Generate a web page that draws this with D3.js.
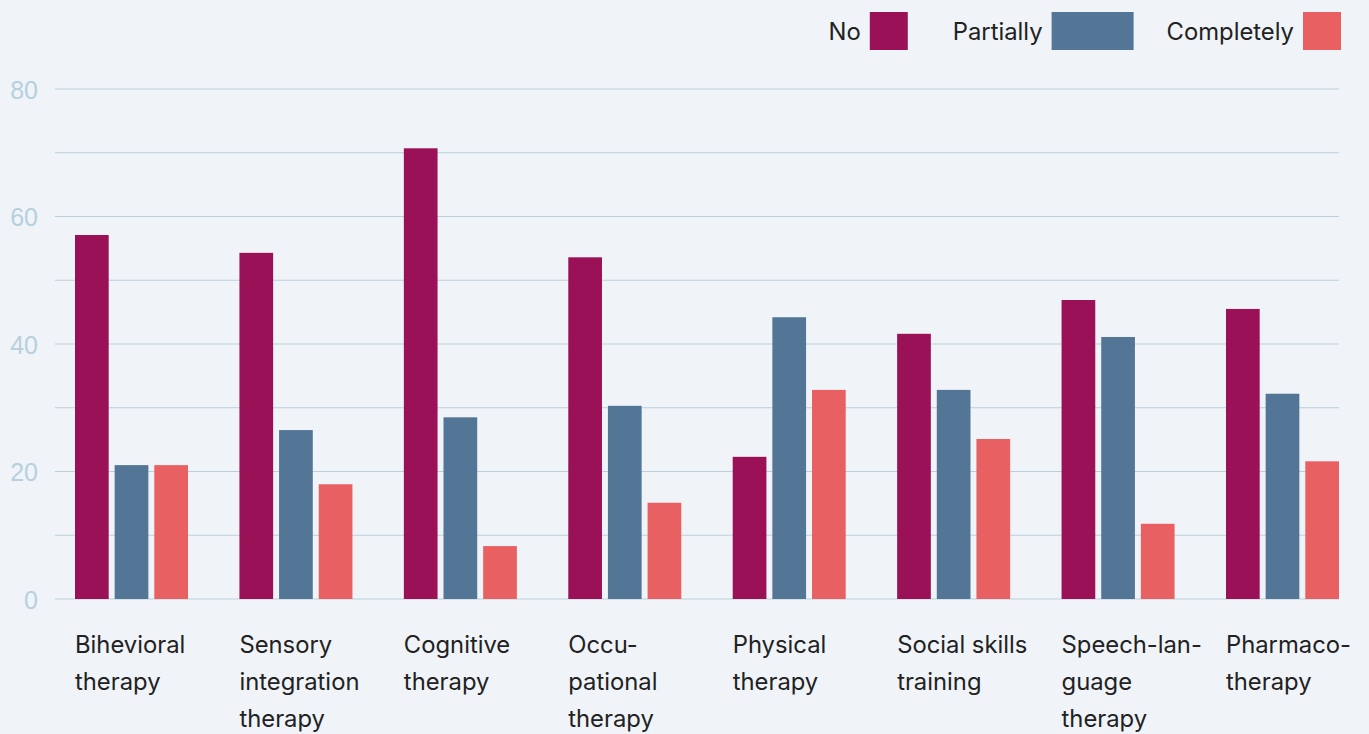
<!DOCTYPE html>
<html>
<head>
<meta charset="utf-8">
<script src="https://cdn.jsdelivr.net/npm/d3@7"></script>
<style>
  html, body { margin: 0; padding: 0; background: #f0f4f8; }
  svg { display: block; }
</style>
</head>
<body>
<svg id="chart" width="1369" height="734"></svg>
<script>
// categories (already hyphenated as in the picture)
const categories = [
  ["Bihevioral", "therapy"],
  ["Sensory", "integration", "therapy"],
  ["Cognitive", "therapy"],
  ["Occu-", "pational", "therapy"],
  ["Physical", "therapy"],
  ["Social skills", "training"],
  ["Speech-lan-", "guage", "therapy"],
  ["Pharmaco-", "therapy"]
];
const seriesNames = ["No", "Partially", "Completely"];
const noValues = [57.1, 54.3, 70.7, 53.6, 22.3, 41.6, 46.9, 45.5];
const partiallyValues = [21.0, 26.5, 28.5, 30.3, 44.2, 32.8, 41.1, 32.2];
const completelyValues = [21.0, 18.0, 8.3, 15.1, 32.8, 25.1, 11.8, 21.6];
const yTicks = [0, 20, 40, 60, 80];
const gridTicks = [0, 10, 20, 30, 40, 50, 60, 70, 80];

const colors = ["#9b1158", "#537696", "#e96062"];
const svg = d3.select("#chart");

const catKeys = categories.map(c => c.join(" "));
const rows = catKeys.map((k, i) => ({
  key: k,
  values: [noValues[i], partiallyValues[i], completelyValues[i]]
}));

const y = d3.scaleLinear().domain([0, 80]).range([599, 89]);
const x0 = d3.scaleBand().domain(catKeys).range([75, 1339]).paddingInner(0.3127).paddingOuter(0);
const x1 = d3.scaleBand().domain(seriesNames).range([0, x0.bandwidth()]).paddingInner(0.15);

// grid lines
svg.append("g").selectAll("line")
  .data(gridTicks)
  .enter().append("line")
  .attr("x1", 55).attr("x2", 1339)
  .attr("y1", d => y(d)).attr("y2", d => y(d))
  .style("stroke", "#b9d0dc")
  .style("stroke-width", 1);

// y labels
svg.append("g").selectAll("text")
  .data(yTicks)
  .enter().append("text")
  .attr("x", 38)
  .attr("y", d => y(d) + 3)
  .attr("text-anchor", "end")
  .attr("dominant-baseline", "middle")
  .style("font-family", "Liberation Sans, Arial, sans-serif")
  .style("font-size", "25px")
  .style("fill", "#b5d0de")
  .text(d => d);

// bars
const groups = svg.append("g").selectAll("g")
  .data(rows)
  .enter().append("g")
  .attr("transform", d => "translate(" + x0(d.key) + ",0)");

groups.selectAll("rect")
  .data(d => d.values.map((v, i) => ({ name: seriesNames[i], value: v, i: i })))
  .enter().append("rect")
  .attr("x", d => x1(d.name))
  .attr("y", d => y(d.value))
  .attr("width", x1.bandwidth())
  .attr("height", d => y(0) - y(d.value))
  .style("fill", d => colors[d.i]);

// category labels
const labels = svg.append("g").selectAll("text")
  .data(categories)
  .enter().append("text")
  .attr("x", (d, i) => x0(catKeys[i]))
  .attr("y", 653)
  .style("font-family", "Inter, sans-serif")
  .style("font-size", "23.8px")
  .style("fill", "#222");

labels.selectAll("tspan")
  .data(d => d)
  .enter().append("tspan")
  .attr("x", function() { return d3.select(this.parentNode).attr("x"); })
  .attr("dy", (d, i) => i === 0 ? 0 : 37)
  .text(d => d);

// legend, laid out right to left
const boxWidths = [38, 82, 38];
const gapsBefore = [0, 45, 33];
const legend = svg.append("g");
let right = 1341;
for (let i = seriesNames.length - 1; i >= 0; i--) {
  legend.append("rect")
    .attr("x", right - boxWidths[i])
    .attr("y", 12)
    .attr("width", boxWidths[i])
    .attr("height", 38)
    .style("fill", colors[i]);
  const t = legend.append("text")
    .attr("x", right - boxWidths[i] - 9)
    .attr("y", 40)
    .attr("text-anchor", "end")
    .style("font-family", "Inter, sans-serif")
    .style("font-size", "23.8px")
    .style("fill", "#222")
    .text(seriesNames[i]);
  const w = t.node().getComputedTextLength();
  right = right - boxWidths[i] - 9 - w - gapsBefore[i];
}
</script>
</body>
</html>
